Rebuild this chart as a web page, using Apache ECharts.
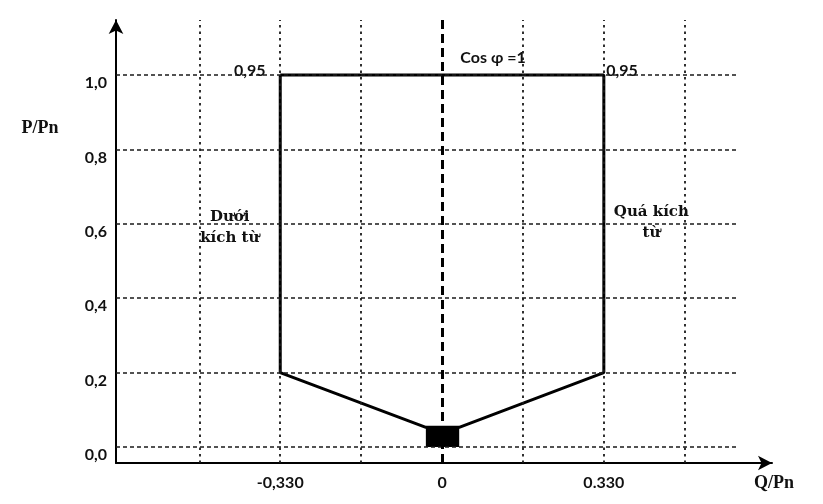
<!DOCTYPE html>
<html>
<head>
<meta charset="utf-8">
<script src="https://cdn.jsdelivr.net/npm/echarts@6/dist/echarts.min.js"></script>
<style>
html, body { margin: 0; padding: 0; background: #fff; }
#chart_box { width: 823px; height: 504px; }
</style>
</head>
<body>
<div id="chart_box"></div>
<script>
/* axis ranges */
var qMin = -0.665, qMax = 0.673;
var pMin = -0.043, pMax = 1.148;
/* tick labels */
var pTicks = [0, 0.2, 0.4, 0.6, 0.8, 1.0];
var qTicks = [-0.33, 0, 0.33];
var qTickLabels = ['-0,330', '0', '0.330'];
/* dashed grid */
var gridQ = [-0.495, -0.33, -0.165, 0.165, 0.33, 0.495];
var gridP = [0, 0.2, 0.4, 0.6, 0.8, 1.0];
var gridPEnd = 0.6;
/* operating boundary */
var boundQ = [-0.33, 0.33, 0.33, 0.035, -0.033, -0.33, -0.33];
var boundP = [1.0, 1.0, 0.2, 0.053, 0.053, 0.2, 1.0];
/* black block near origin: q0, p0, q1, p1 */
var blockBox = [-0.033, 0, 0.035, 0.053];
/* annotations: region names (serif) and values (sans) */
var regionText = ['Dưới\nkích từ', 'Quá kích\ntừ'];
var regionQ = [-0.433, 0.427];
var regionP = [0.589, 0.602];
var valueText = ['Cos φ =1', '0,95', '0,95'];
var valueQ = [0.104, -0.392, 0.367];
var valueP = [1.046, 1.012, 1.01];

var sansFont = 'Lato';
var serifFont = '"Liberation Serif"';
// Liberation Serif falls back on the Vietnamese text here, DejaVu does not
var vnSerifFont = '"DejaVu Serif"';

function near(a, b) { return Math.abs(a - b) < 1e-6; }

var boundData = [];
for (var i = 0; i < boundQ.length; i++) boundData.push([boundQ[i], boundP[i]]);

var gridLines = [];
for (var i = 0; i < gridQ.length; i++) {
	gridLines.push([{ coord: [gridQ[i], pMin] }, { coord: [gridQ[i], pMax] }]);
}
for (var i = 0; i < gridP.length; i++) {
	gridLines.push([{ coord: [qMin, gridP[i]] }, { coord: [gridPEnd, gridP[i]] }]);
}
// horizontal ones use a longer dash than vertical ones
var gridLineData = gridLines.map(function(seg, idx) {
	var horiz = idx >= gridQ.length;
	seg[0].lineStyle = { type: horiz ? [4, 3] : [2.5, 4], width: horiz ? 1.6 : 1.8, color: '#1a1a1a' };
	return seg;
});

var myChart = echarts.init(document.getElementById('chart_box'));
var option = {
	backgroundColor: '#fff',
	animation: false,
	grid: { left: 116, right: 51, top: 20, bottom: 41 },
	xAxis: {
		type: 'value',
		min: qMin,
		max: qMax,
		axisLine: {
			onZero: false,
			symbol: ['none', 'arrow'],
			symbolSize: [11, 14],
			lineStyle: { color: '#000', width: 2 }
		},
		axisTick: { show: false },
		splitLine: { show: false },
		axisLabel: {
			customValues: qTicks,
			margin: 12,
			color: '#111',
			fontFamily: sansFont,
			fontWeight: 'bold',
			fontSize: 16,
			formatter: function(v) {
				for (var i = 0; i < qTicks.length; i++) if (near(v, qTicks[i])) return qTickLabels[i];
				return '';
			}
		}
	},
	yAxis: {
		type: 'value',
		min: pMin,
		max: pMax,
		axisLine: {
			show: true,
			onZero: false,
			symbol: ['none', 'arrow'],
			symbolSize: [11, 14],
			lineStyle: { color: '#000', width: 2 }
		},
		axisTick: { show: false },
		splitLine: { show: false },
		axisLabel: {
			customValues: pTicks,
			margin: 9,
			color: '#111',
			fontFamily: sansFont,
			fontWeight: 'bold',
			fontSize: 16,
			verticalAlign: 'top',
			formatter: function(v) { return v.toFixed(1).replace('.', ','); }
		}
	},
	series: [{
		name: 'grid',
		type: 'line',
		data: [],
		silent: true,
		markLine: {
			silent: true,
			symbol: ['none', 'none'],
			label: { show: false },
			animation: false,
			data: gridLineData.concat([
				[{ coord: [0, pMin], lineStyle: { type: [9, 5], width: 3, color: '#000' } }, { coord: [0, pMax] }]
			])
		}
	}, {
		name: 'boundary',
		type: 'line',
		data: boundData,
		showSymbol: false,
		lineStyle: { color: '#000', width: 3 },
		silent: true
	}, {
		name: 'block',
		type: 'custom',
		data: [blockBox],
		encode: { x: [0, 2], y: [1, 3] },
		renderItem: function(params, api) {
			var a = api.coord([api.value(0), api.value(3)]);
			var b = api.coord([api.value(2), api.value(1)]);
			return {
				type: 'rect',
				shape: { x: a[0], y: a[1], width: b[0] - a[0], height: b[1] - a[1] },
				style: { fill: '#000' }
			};
		}
	}]
};
myChart.setOption(option);

/* text notes placed through the grid's own scales */
function noteGraphic(text, q, p, font) {
	var pt = myChart.convertToPixel({ gridIndex: 0 }, [q, p]);
	return {
		type: 'text', x: pt[0], y: pt[1], silent: true,
		style: { text: text, font: font, fill: '#111', align: 'center', verticalAlign: 'middle', lineHeight: 21 }
	};
}
var graphics = [
	{ type: 'text', x: 40, y: 128, style: { text: 'P/Pn', font: 'bold 18px ' + serifFont, fill: '#111', align: 'center', verticalAlign: 'middle' } },
	{ type: 'text', x: 774, y: 483, style: { text: 'Q/Pn', font: 'bold 18px ' + serifFont, fill: '#111', align: 'center', verticalAlign: 'middle' } }
];
for (var i = 0; i < regionText.length; i++) {
	graphics.push(noteGraphic(regionText[i], regionQ[i], regionP[i], 'bold 15px ' + vnSerifFont));
}
for (var i = 0; i < valueText.length; i++) {
	graphics.push(noteGraphic(valueText[i], valueQ[i], valueP[i], 'bold 16px ' + sansFont));
}
myChart.setOption({ graphic: graphics });
</script>
</body>
</html>
